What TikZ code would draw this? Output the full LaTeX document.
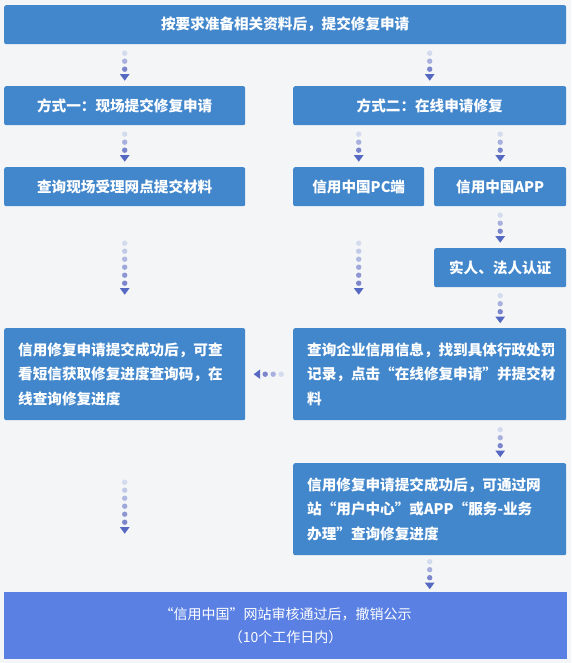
\documentclass[tikz,border=0pt]{standalone}
\usepackage{fontspec}
\newfontfamily\cjk{Noto Sans CJK SC}
\usetikzlibrary{decorations.markings}
\definecolor{bg}{HTML}{F4F5F7}
\definecolor{boxblue}{HTML}{4287CC}
\definecolor{barblue}{HTML}{5A80E4}
\definecolor{dotlight}{HTML}{D3DBEE}
\definecolor{dotdark}{HTML}{7C86CD}
\definecolor{tipcol}{HTML}{5669C2}
\newcommand\dotgroup[1]{%
  \pgfmathsetmacro\half{#1/2}%
  \foreach \i in {1,...,#1}{%
    \pgfmathtruncatemacro\pct{100*(\i-1)/(#1-1)}%
    \fill[dotdark!\pct!dotlight] ({(\i-1-\half)*8pt},0pt) circle (2.7pt);
  }%
  \pgfmathsetmacro\tipx{(#1-\half)*8}%
  \fill[tipcol] (\tipx pt-3pt,4.8pt) -- (\tipx pt+3.5pt,0pt) -- (\tipx pt-3pt,-4.8pt) -- cycle;
}
\tikzset{
  box/.style={fill=boxblue, rounded corners=2pt, text=white, anchor=north west,
    inner sep=0pt, font=\cjk\bfseries\fontsize{14.6}{24.5}\selectfont},
  mbox/.style={box, align=left, inner xsep=14pt, text width=#1},
  dotflow/.style={postaction={decorate},
    decoration={markings, mark=at position 0.5 with {\dotgroup{#1}}}},
}
\begin{document}
\begin{tikzpicture}[x=1pt,y=-1pt]
\fill[bg] (0,0) rectangle (571,663);
\useasboundingbox (0,0) rectangle (571,663);

\node[box, minimum width=562pt, minimum height=39pt] (top) at (4,5) {按要求准备相关资料后，提交修复申请};
\node[box, minimum width=241pt, minimum height=39pt] (m1) at (4,86) {方式一：现场提交修复申请};
\node[box, minimum width=273pt, minimum height=39pt] (m2) at (293,86) {方式二：在线申请修复};
\node[box, minimum width=241pt, minimum height=39pt] (r1) at (4,167) {查询现场受理网点提交材料};
\node[box, minimum width=131pt, minimum height=39pt] (pc) at (293,167) {信用中国PC端};
\node[box, minimum width=132pt, minimum height=39pt] (app) at (434,167) {信用中国APP};
\node[box, minimum width=132pt, minimum height=39pt] (auth) at (434,248) {实人、法人认证};
\node[mbox=213pt, minimum width=241pt, minimum height=92pt] (lm) at (4,328)
  {信用修复申请提交成功后，可查\\看短信获取修复进度查询码，在\\线查询修复进度};
\node[mbox=245pt, minimum width=273pt, minimum height=92pt] (qy) at (293,328)
  {查询企业信用信息，找到具体行政处罚\\记录，点击“在线修复申请”并提交材\\料};
\node[mbox=245pt, minimum width=273pt, minimum height=92pt] (xy) at (293,463)
  {信用修复申请提交成功后，可通过网\\站“用户中心”或APP“服务-业务\\办理”查询修复进度};
\node[box, fill=barblue, rounded corners=0pt, align=center, minimum width=563pt, minimum height=67pt,
  font=\cjk\fontsize{14}{23}\selectfont] (bottom) at (4,592)
  {“信用中国”网站审核通过后，撤销公示\\（10个工作日内）};

\path[dotflow=3] (top.south -| m1) -- (m1.north);
\path[dotflow=3] (top.south -| m2) -- (m2.north);
\path[dotflow=3] (m1.south) -- (r1.north);
\path[dotflow=3] (m2.south -| pc) -- (pc.north);
\path[dotflow=3] (m2.south -| app) -- (app.north);
\path[dotflow=3] (app.south) -- (auth.north);
\path[dotflow=3] (auth.south) -- (auth.south |- qy.north);
\path[dotflow=6] (r1.south) -- (lm.north);
\path[dotflow=6] (pc.south) -- (pc.south |- qy.north);
\path[dotflow=3] (qy.west) -- (lm.east);
\path[dotflow=3] (qy.south -| app) -- (xy.north -| app);
\path[dotflow=6] (lm.south) -- (lm.south |- bottom.north);
\path[dotflow=3] (xy.south) -- (xy.south |- bottom.north);
\end{tikzpicture}
\end{document}
